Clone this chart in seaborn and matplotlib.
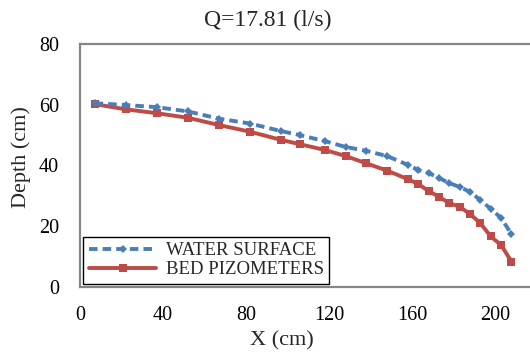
import pandas as pd
import matplotlib.pyplot as plt
import seaborn as sns

# --- Data ---
x_cm = [7, 22, 37, 52, 67, 82, 97, 106, 118, 128, 138, 148, 158,
        163, 168, 173, 178, 183, 188, 193, 198, 203, 208]
water_surface = [60.5, 59.9, 59.2, 57.8, 55.4, 53.8, 51.3, 50.0, 48.0, 46.1, 44.8, 43.1, 40.2,
                 38.5, 37.5, 35.9, 34.2, 32.9, 31.3, 28.6, 25.7, 22.7, 17.4]
bed_pizometers = [60.2, 58.5, 57.2, 55.7, 53.3, 51.1, 48.4, 47.0, 45.1, 43.1, 40.7, 38.3, 35.5,
                  33.9, 31.6, 29.7, 27.6, 26.4, 24.0, 21.0, 16.6, 13.8, 8.3]
x_ticks = [0, 40, 80, 120, 160, 200]
y_ticks = [0, 20, 40, 60, 80]

sns.set_style("white")
plt.rcParams['font.family'] = ['Liberation Serif', 'DejaVu Serif']

df = pd.DataFrame({'X': x_cm, 'WATER SURFACE': water_surface, 'BED PIZOMETERS': bed_pizometers})

fig, ax = plt.subplots(figsize=(5.3, 3.52), dpi=100)
fig.subplots_adjust(left=0.151, right=1.012, top=0.875, bottom=0.185)

sns.lineplot(data=df, x='X', y='WATER SURFACE', ax=ax, color='#4a7ebb', linewidth=2.8,
             linestyle=(0, (2.2, 1.3)), marker='D', markersize=4.5, markeredgewidth=0,
             label='WATER SURFACE', zorder=3)
sns.lineplot(data=df, x='X', y='BED PIZOMETERS', ax=ax, color='#be4b48', linewidth=2.8,
             marker='s', markersize=5.5, markeredgewidth=0,
             label='BED PIZOMETERS', zorder=2)

ax.set_xlim(0, 220)
ax.set_ylim(0, 80)
ax.set_xticks(x_ticks)
ax.set_yticks(y_ticks)
ax.tick_params(axis='x', length=0, labelsize=14.5, pad=14, colors='black')
ax.tick_params(axis='y', length=0, labelsize=14.5, pad=15, colors='black')
ax.set_xlabel('X (cm)', fontsize=16, labelpad=4, x=0.443)
ax.set_ylabel('Depth (cm)', fontsize=16, labelpad=6, y=0.535)
fig.suptitle('Q=17.81 (l/s)', fontsize=17, x=0.505, y=0.943, va='center')

for side in ['top', 'bottom', 'left', 'right']:
    ax.spines[side].set_color('#868686')
    ax.spines[side].set_linewidth(1.6)

leg = ax.legend(loc='lower left', bbox_to_anchor=(0.007, 0.012), borderaxespad=0,
                fancybox=False, edgecolor='black', fontsize=13.5, handlelength=3.6,
                labelspacing=0.1, borderpad=0.3, handletextpad=0.5, framealpha=1)
leg.get_frame().set_linewidth(1.0)

plt.savefig('out.png', dpi=100)
